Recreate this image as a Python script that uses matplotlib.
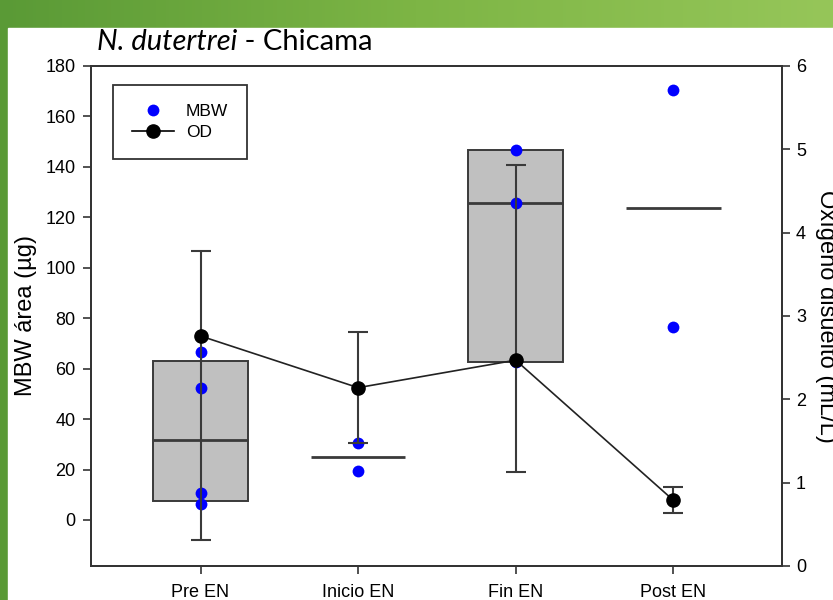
import numpy as np
import matplotlib
matplotlib.use("Agg")
import matplotlib.pyplot as plt
from matplotlib.lines import Line2D
from matplotlib.patches import Rectangle

# values
categories = ['Pre EN', 'Inicio EN', 'Fin EN', 'Post EN']
mbw_pre = [66.7, 52.4, 10.7, 6.3]
mbw_inicio = [30.6, 19.4]
mbw_fin = [146.6, 125.8, 62.7]
mbw_post = [170.6, 76.4]
mbw_groups = [mbw_pre, mbw_inicio, mbw_fin, mbw_post]

od_mean = [2.76, 2.14, 2.47, 0.79]
od_low = [0.31, 1.48, 1.13, 0.64]
od_high = [3.78, 2.81, 4.81, 0.95]

plt.rcParams['font.family'] = ['Liberation Sans', 'DejaVu Sans']

fig = plt.figure(figsize=(8.33, 6.0), dpi=100)

# slide background (green) with the white chart area
bg = fig.add_axes([0, 0, 1, 1], zorder=-10)
grad = np.linspace(0, 1, 256).reshape(1, -1)
cmap = matplotlib.colors.LinearSegmentedColormap.from_list('g', ['#5a9a36', '#7db545', '#96c659'])
bg.imshow(grad, aspect='auto', cmap=cmap, extent=[0, 1, 0, 1])
bg.add_patch(Rectangle((8 / 833, 0), 1, 572 / 600, color='white'))
bg.set_xlim(0, 1)
bg.set_ylim(0, 1)
bg.axis('off')

ax = fig.add_axes([91 / 833, 34 / 600, 691 / 833, 500 / 600])
ax2 = ax.twinx()
x = np.arange(1, len(categories) + 1)
box_w = 0.6
edge = '#3a3a3a'

for xi, vals in zip(x, mbw_groups):
    vals = np.array(vals)
    med = np.median(vals)
    if len(vals) >= 3:
        q1, q3 = np.percentile(vals, [25, 75], method='weibull')
        ax.bar(xi, q3 - q1, bottom=q1, width=box_w, color='#c0c0c0',
               edgecolor=edge, linewidth=1.4, zorder=1)
    ax.hlines(med, xi - box_w / 2, xi + box_w / 2, color=edge, linewidth=2, zorder=2)
    ax.plot([xi] * len(vals), vals, 'o', color='#0000ff', markersize=8.5,
            markeredgewidth=0, zorder=3)

ax.set_xlim(0.305, 4.69)
ax.set_ylim(-18.25, 180)
ax.set_yticks(np.arange(0, 181, 20))
ax.set_xticks(x)
ax.set_xticklabels(categories)
ax.set_ylabel('MBW área (µg)', fontsize=17, labelpad=6)

od_mean_a = np.array(od_mean)
yerr = [od_mean_a - np.array(od_low), np.array(od_high) - od_mean_a]
ax2.errorbar(x, od_mean, yerr=yerr, fmt='none', ecolor=edge, elinewidth=1.5,
             capsize=7, capthick=1.5, zorder=4)
ax2.plot(x, od_mean, '-', color='#222222', linewidth=1.2, zorder=5)
ax2.plot(x, od_mean, 'o', color='black', markersize=9.5, zorder=6)
ax2.set_ylim(0, 6)
ax2.set_yticks(np.arange(0, 7, 1))
ax2.set_ylabel('Oxígeno disuelto (mL/L)', fontsize=17, rotation=270, labelpad=22)

for a in (ax, ax2):
    for s in a.spines.values():
        s.set_linewidth(1.3)
        s.set_color('#333333')
    a.tick_params(direction='out', length=6, width=1.2, color='#333333', labelsize=13)
ax.tick_params(axis='y', pad=5)
ax.tick_params(axis='x', pad=7)
ax2.tick_params(axis='y', pad=4)

handles = [Line2D([], [], marker='o', color='#0000ff', linestyle='none', markersize=8.5,
                  markeredgewidth=0),
           Line2D([], [], marker='o', color='black', linewidth=1.2, markersize=9.5)]
leg = ax2.legend(handles, ['MBW', 'OD'], loc='upper left', bbox_to_anchor=(0.032, 0.962),
                 borderaxespad=0, fontsize=12.5, fancybox=False, framealpha=1,
                 edgecolor='#333333', handlelength=2.4, borderpad=1.1,
                 labelspacing=0.3, handletextpad=0.7)
leg.get_frame().set_linewidth(1.3)

# title: italic species name followed by the site
t1 = fig.text(97 / 833, 1 - 42 / 600, 'N. dutertrei', fontsize=21, style='italic',
              family='Lato', va='center', ha='left')
fig.canvas.draw()
bb = t1.get_window_extent()
fig.text(bb.x1 / fig.bbox.width, 1 - 42 / 600, ' - Chicama', fontsize=21,
         family='Lato', va='center', ha='left')

fig.savefig('out.png', dpi=100)
